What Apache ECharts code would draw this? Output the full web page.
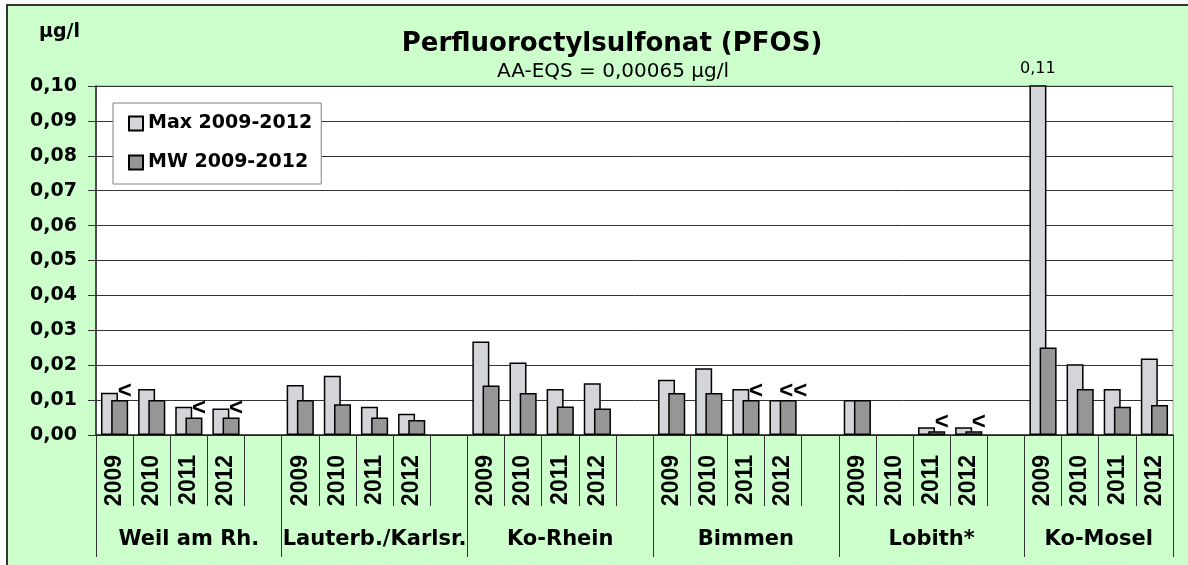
<!DOCTYPE html>
<html>
<head>
<meta charset="utf-8">
<script src="https://cdn.jsdelivr.net/npm/echarts@6/dist/echarts.min.js"></script>
<style>
  body { margin: 0; overflow: hidden; background: #fff; }
  #wrap { position: relative; width: 1188px; height: 565px; background: #fff; }
  #frame { position: absolute; left: 6px; top: 4px; width: 1200px; height: 580px; background: #ccffcc; border: 2px solid #333; }
  #main { position: absolute; left: 0; top: 0; width: 1188px; height: 565px; }
</style>
</head>
<body>
<div id="wrap">
  <div id="frame"></div>
  <div id="main"></div>
</div>
<script type="text/javascript">
    // Messstellen und Jahre
    var stations = ['Weil am Rh.', 'Lauterb./Karlsr.', 'Ko-Rhein', 'Bimmen', 'Lobith*', 'Ko-Mosel'];
    var years = ['2009', '2010', '2011', '2012'];

    // Max 2009-2012 (µg/l), je Station 4 Jahre
    var maxVals = [
        0.0121, 0.0132, 0.0081, 0.0076,
        0.0143, 0.0170, 0.0081, 0.0061,
        0.0268, 0.0208, 0.0132, 0.0148,
        0.0158, 0.0191, 0.0132, 0.0100,
        0.0100, null,   0.0022, 0.0022,
        0.11,   0.0203, 0.0132, 0.0219
    ];
    // MW 2009-2012 (µg/l)
    var mwVals = [
        0.0100, 0.0100, 0.0050, 0.0050,
        0.0100, 0.0088, 0.0050, 0.0043,
        0.0142, 0.0120, 0.0082, 0.0076,
        0.0120, 0.0120, 0.0100, 0.0100,
        0.0100, null,   0.0011, 0.0011,
        0.0251, 0.0132, 0.0081, 0.0086
    ];
    // "<" = Wert unter Bestimmungsgrenze
    var mwFlags = [
        '<', '', '<', '<',
        '', '', '', '',
        '', '', '', '',
        '', '', '<', '<<',
        '', '', '<', '<',
        '', '', '', ''
    ];

    var yMax = 0.10;
    var yStep = 0.01;

    // 4 Jahre je Station, danach eine leere Spalte (nicht nach der letzten)
    function spread(list, gap) {
        var out = [];
        stations.forEach(function (s, i) {
            for (var j = 0; j < years.length; j++) out.push(list[i * years.length + j]);
            if (i < stations.length - 1) out.push(gap);
        });
        return out;
    }

    var yearLabels = spread(stations.map(function () { return years; }).reduce(function (a, b) { return a.concat(b); }, []), '');
    var bounds = [0];
    stations.forEach(function (s, i) {
        bounds.push(bounds[i] + years.length + (i < stations.length - 1 ? 1 : 0));
    });
    var centers = bounds.slice(0, -1).map(function (b, i) { return (b + bounds[i + 1]) / 2; });

    function fmt(v) { return v.toFixed(2).replace('.', ','); }

    var maxData = spread(maxVals, null).map(function (v) {
        if (v != null && v > yMax) {
            return {
                value: v,
                label: {
                    show: true, position: 'top', distance: 8,
                    formatter: function (p) { return fmt(p.value); },
                    fontFamily: 'DejaVu Sans', fontSize: 16, color: '#000'
                }
            };
        }
        return v;
    });
    var mwData = spread(mwVals, null);
    var flagData = spread(mwFlags, '');

    var myChart = echarts.init(document.getElementById('main'), null, {renderer: 'canvas'});
    var option = {
        backgroundColor: 'transparent',
        animation: false,
        title: [{
            text: 'Perfluoroctylsulfonat (PFOS)',
            left: 607, top: 26, textAlign: 'center',
            textStyle: {fontFamily: 'DejaVu Sans', fontSize: 26, fontWeight: 'bold', color: '#000'}
        }, {
            text: 'AA-EQS = 0,00065 µg/l',
            left: 608, top: 57, textAlign: 'center',
            textStyle: {fontFamily: 'DejaVu Sans', fontSize: 20, fontWeight: 'normal', color: '#000'}
        }],
        legend: {
            data: ['Max 2009-2012', 'MW 2009-2012'],
            orient: 'vertical',
            left: 113, top: 103,
            backgroundColor: '#fff',
            borderColor: '#808080', borderWidth: 1,
            padding: [11, 9, 12, 15],
            itemGap: 20,
            itemWidth: 14, itemHeight: 14,
            icon: 'rect',
            textStyle: {fontFamily: 'DejaVu Sans', fontSize: 19, fontWeight: 'bold', color: '#000'}
        },
        grid: {
            left: 96, right: 15, top: 86, bottom: 130,
            show: true, backgroundColor: '#fff',
            borderColor: '#a0a0a0', borderWidth: 1,
            outerBoundsMode: 'none'
        },
        xAxis: [{
            type: 'category',
            data: yearLabels,
            position: 'bottom',
            axisLine: {show: true, lineStyle: {color: '#222', width: 1.5}},
            axisTick: {show: true, interval: 0, length: 71, lineStyle: {color: '#333', width: 1}},
            axisLabel: {
                interval: 0, rotate: 90, margin: 20,
                fontFamily: 'Liberation Sans', fontSize: 23, fontWeight: 'bold', color: '#000'
            },
            splitLine: {show: false}
        }, {
            type: 'value',
            min: 0, max: bounds[bounds.length - 1],
            position: 'bottom',
            axisLine: {show: false},
            axisTick: {show: true, customValues: bounds, length: 122, lineStyle: {color: '#333', width: 1}},
            axisLabel: {
                customValues: centers, margin: 94,
                formatter: function (v) {
                    for (var i = 0; i < centers.length; i++) if (Math.abs(centers[i] - v) < 1e-6) return stations[i];
                    return '';
                },
                fontFamily: 'DejaVu Sans', fontSize: 21, fontWeight: 'bold', color: '#000'
            },
            splitLine: {show: false}
        }],
        yAxis: {
            type: 'value',
            min: 0, max: yMax, interval: yStep,
            name: 'µg/l',
            nameLocation: 'end', nameGap: 44,
            nameTextStyle: {align: 'right', padding: [0, 16, 0, 0], fontFamily: 'DejaVu Sans', fontSize: 19, fontWeight: 'bold', color: '#000'},
            axisLine: {show: true, lineStyle: {color: '#222', width: 1.5}},
            axisTick: {show: true, length: 8, lineStyle: {color: '#333'}},
            axisLabel: {
                margin: 19, formatter: fmt,
                fontFamily: 'DejaVu Sans', fontSize: 19, fontWeight: 'bold', color: '#000'
            },
            splitLine: {show: true, lineStyle: {color: '#333', width: 1}}
        },
        series: [{
            name: 'Max 2009-2012',
            type: 'bar',
            xAxisIndex: 0, yAxisIndex: 0,
            barWidth: 17, barGap: '-40%',
            clip: true,
            itemStyle: {color: '#d4d5d9', borderColor: '#000', borderWidth: 1.5},
            data: maxData
        }, {
            name: 'MW 2009-2012',
            type: 'bar',
            xAxisIndex: 0, yAxisIndex: 0,
            barWidth: 17, barGap: '-40%',
            clip: true,
            itemStyle: {color: '#969696', borderColor: '#000', borderWidth: 1.5},
            label: {
                show: true, position: 'top', distance: 0, offset: [5, 3],
                formatter: function (p) { return flagData[p.dataIndex]; },
                fontFamily: 'Liberation Sans', fontSize: 24, fontWeight: 'bold', color: '#000'
            },
            data: mwData
        }]
    };
    myChart.setOption(option);
</script>
</body>
</html>
